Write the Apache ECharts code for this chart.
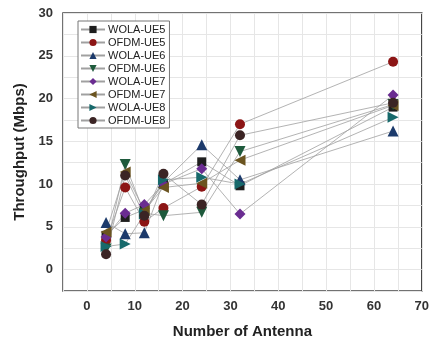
<!DOCTYPE html>
<html>
<head>
<meta charset="utf-8">
<script src="https://cdn.jsdelivr.net/npm/echarts@6/dist/echarts.min.js"></script>
<style>
  html, body { margin: 0; padding: 0; background: #ffffff; }
  #chart { width: 432px; height: 344px; }
</style>
</head>
<body>
<div id="chart"></div>
<script>
// Number of antennas at which throughput was measured
const antennas = [4, 8, 12, 16, 24, 32, 64];

// Throughput (Mbps) per scheme / user equipment
const wolaUE5 = [4.0, 6.1, 7.0, 10.0, 12.6, 9.8, 19.0];
const ofdmUE5 = [3.4, 9.6, 5.6, 7.2, 9.7, 17.0, 24.3];
const wolaUE6 = [5.5, 4.2, 4.3, 10.2, 14.6, 10.5, 16.2];
const ofdmUE6 = [2.4, 12.3, 6.6, 6.3, 6.7, 13.8, 19.3];
const wolaUE7 = [3.8, 6.6, 7.6, 10.0, 11.8, 6.5, 20.4];
const ofdmUE7 = [4.4, 11.4, 6.9, 9.6, 10.1, 12.8, 19.2];
const wolaUE8 = [2.7, 3.0, 6.5, 10.5, 10.8, 10.0, 17.8];
const ofdmUE8 = [1.8, 11.0, 6.3, 11.2, 7.6, 15.7, 19.5];

const seriesNames = ['WOLA-UE5', 'OFDM-UE5', 'WOLA-UE6', 'OFDM-UE6',
                     'WOLA-UE7', 'OFDM-UE7', 'WOLA-UE8', 'OFDM-UE8'];
const seriesValues = [wolaUE5, ofdmUE5, wolaUE6, ofdmUE6, wolaUE7, ofdmUE7, wolaUE8, ofdmUE8];

// Marker appearance for each series
const markerStyles = [
  { symbol: 'rect',     size: 9,  rotate: 0,   color: '#1e1e1e' },
  { symbol: 'circle',   size: 10, rotate: 0,   color: '#8c1515' },
  { symbol: 'triangle', size: 11, rotate: 0,   color: '#1c3a6b' },
  { symbol: 'triangle', size: 11, rotate: 180, color: '#1e5a3c' },
  { symbol: 'diamond',  size: 11, rotate: 0,   color: '#6a2c91' },
  { symbol: 'triangle', size: 11, rotate: 90,  color: '#6b5420' },
  { symbol: 'triangle', size: 11, rotate: -90, color: '#17696b' },
  { symbol: 'circle',   size: 10, rotate: 0,   color: '#3b2424' }
];

const series = seriesNames.map((name, i) => ({
  name: name,
  type: 'line',
  data: antennas.map((x, j) => [x, seriesValues[i][j]]),
  symbol: markerStyles[i].symbol,
  symbolSize: markerStyles[i].size,
  symbolRotate: markerStyles[i].rotate,
  showAllSymbol: true,
  itemStyle: { color: markerStyles[i].color },
  lineStyle: { color: '#a0a0a0', width: 0.8 },
  emphasis: { disabled: true },
  animation: false
}));

const font = 'Liberation Sans, Arial, sans-serif';

const chart = echarts.init(document.getElementById('chart'), null, { renderer: 'canvas' });
chart.setOption({
  animation: false,
  backgroundColor: '#ffffff',
  grid: {
    left: 63, top: 13, right: 8, bottom: 49,
    show: true, borderColor: '#444444', borderWidth: 1.5,
    backgroundColor: 'transparent'
  },
  legend: {
    orient: 'vertical',
    left: 78, top: 21,
    padding: [3, 4, 2, 2],
    itemWidth: 24, itemHeight: 9, itemGap: 2,
    backgroundColor: '#ffffff',
    borderColor: '#777777', borderWidth: 1,
    textStyle: { fontFamily: font, fontSize: 11, color: '#222222', padding: [0, 0, 0, -2] },
    data: seriesNames
  },
  xAxis: {
    type: 'value',
    min: -5, max: 70, interval: 5,
    name: 'Number of Antenna',
    nameLocation: 'middle', nameGap: 33,
    nameTextStyle: { fontFamily: font, fontSize: 15, fontWeight: 'bold', color: '#222222' },
    axisLine: { show: false },
    axisTick: { show: false },
    axisLabel: {
      margin: 9,
      fontFamily: font, fontSize: 13, fontWeight: 'bold', color: '#333333',
      formatter: v => (v % 10 === 0 ? String(v) : '')
    },
    splitLine: { show: true, lineStyle: { color: '#e6e6e6', width: 1 } }
  },
  yAxis: {
    type: 'value',
    min: -2.5, max: 30, interval: 2.5,
    name: 'Throughput (Mbps)',
    nameLocation: 'middle', nameGap: 29, nameRotate: 90,
    nameTextStyle: { fontFamily: font, fontSize: 15, fontWeight: 'bold', color: '#222222' },
    axisLine: { show: false },
    axisTick: { show: false },
    axisLabel: {
      margin: 10,
      fontFamily: font, fontSize: 13, fontWeight: 'bold', color: '#333333',
      formatter: v => (v % 5 === 0 ? String(v) : '')
    },
    splitLine: { show: true, lineStyle: { color: '#e6e6e6', width: 1 } }
  },
  series: series
});
</script>
</body>
</html>
